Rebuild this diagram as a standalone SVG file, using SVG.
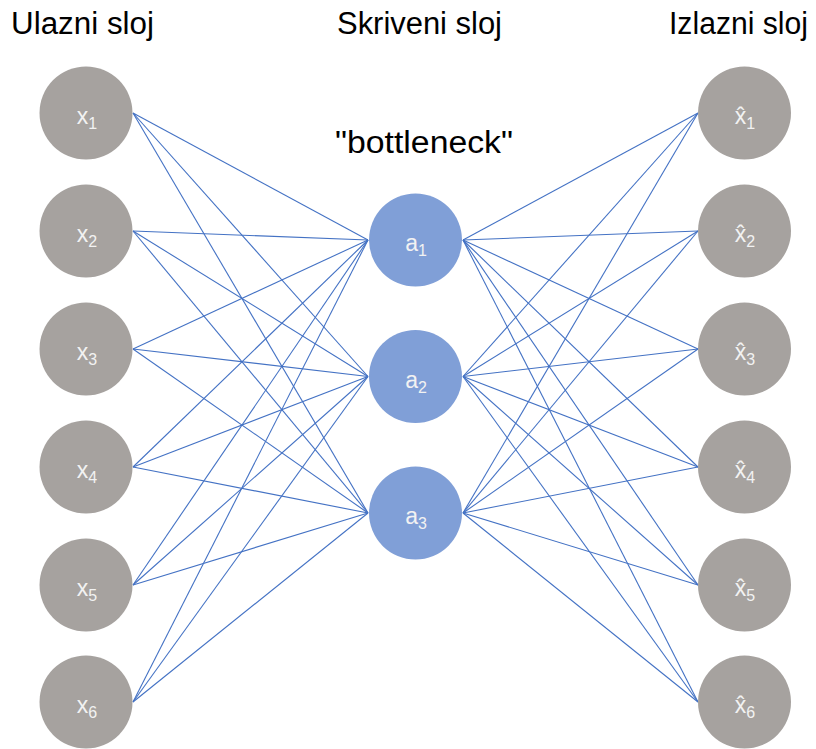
<svg xmlns="http://www.w3.org/2000/svg" width="816" height="749" viewBox="0 0 816 749">
<style>
.title{font-family:"Liberation Sans",Arial,sans-serif;font-size:31px;fill:#000}
.io{fill:#A6A29F}
.hid{fill:#809FD7}
.lbl{font-family:"Liberation Sans","DejaVu Sans",sans-serif;font-size:23px;fill:#F2F2F2;text-anchor:middle}
.sub{font-size:16px}
.conn line{stroke:#4472C4;stroke-width:1.1}
</style>
<rect width="816" height="749" fill="#FFFFFF"/>
<text class="title" x="11" y="34" textLength="143" lengthAdjust="spacingAndGlyphs">Ulazni sloj</text>
<text class="title" x="337" y="34" textLength="165" lengthAdjust="spacingAndGlyphs">Skriveni sloj</text>
<text class="title" x="669" y="34" textLength="139" lengthAdjust="spacingAndGlyphs">Izlazni sloj</text>
<text class="title" x="335" y="153" textLength="178" lengthAdjust="spacingAndGlyphs">"bottleneck"</text>
<g class="conn">
<line x1="133" y1="113" x2="368" y2="240"/><line x1="133" y1="113" x2="368" y2="376.5"/><line x1="133" y1="113" x2="368" y2="513"/>
<line x1="133" y1="231" x2="368" y2="240"/><line x1="133" y1="231" x2="368" y2="376.5"/><line x1="133" y1="231" x2="368" y2="513"/>
<line x1="133" y1="349" x2="368" y2="240"/><line x1="133" y1="349" x2="368" y2="376.5"/><line x1="133" y1="349" x2="368" y2="513"/>
<line x1="133" y1="467" x2="368" y2="240"/><line x1="133" y1="467" x2="368" y2="376.5"/><line x1="133" y1="467" x2="368" y2="513"/>
<line x1="133" y1="585" x2="368" y2="240"/><line x1="133" y1="585" x2="368" y2="376.5"/><line x1="133" y1="585" x2="368" y2="513"/>
<line x1="133" y1="702" x2="368" y2="240"/><line x1="133" y1="702" x2="368" y2="376.5"/><line x1="133" y1="702" x2="368" y2="513"/>
<line x1="463" y1="240" x2="698" y2="113"/><line x1="463" y1="240" x2="698" y2="231"/><line x1="463" y1="240" x2="698" y2="349"/>
<line x1="463" y1="240" x2="698" y2="467"/><line x1="463" y1="240" x2="698" y2="585"/><line x1="463" y1="240" x2="698" y2="702"/>
<line x1="463" y1="376.5" x2="698" y2="113"/><line x1="463" y1="376.5" x2="698" y2="231"/><line x1="463" y1="376.5" x2="698" y2="349"/>
<line x1="463" y1="376.5" x2="698" y2="467"/><line x1="463" y1="376.5" x2="698" y2="585"/><line x1="463" y1="376.5" x2="698" y2="702"/>
<line x1="463" y1="513" x2="698" y2="113"/><line x1="463" y1="513" x2="698" y2="231"/><line x1="463" y1="513" x2="698" y2="349"/>
<line x1="463" y1="513" x2="698" y2="467"/><line x1="463" y1="513" x2="698" y2="585"/><line x1="463" y1="513" x2="698" y2="702"/>
</g>
<g id="x1"><circle class="io" cx="86" cy="113" r="46.5"/><text class="lbl" x="87" y="124">x<tspan class="sub" dy="5">1</tspan></text></g>
<g id="x2"><circle class="io" cx="86" cy="231" r="46.5"/><text class="lbl" x="87" y="242">x<tspan class="sub" dy="5">2</tspan></text></g>
<g id="x3"><circle class="io" cx="86" cy="349" r="46.5"/><text class="lbl" x="87" y="360">x<tspan class="sub" dy="5">3</tspan></text></g>
<g id="x4"><circle class="io" cx="86" cy="467" r="46.5"/><text class="lbl" x="87" y="478">x<tspan class="sub" dy="5">4</tspan></text></g>
<g id="x5"><circle class="io" cx="86" cy="585" r="46.5"/><text class="lbl" x="87" y="596">x<tspan class="sub" dy="5">5</tspan></text></g>
<g id="x6"><circle class="io" cx="86" cy="702" r="46.5"/><text class="lbl" x="87" y="713">x<tspan class="sub" dy="5">6</tspan></text></g>
<g id="a1"><circle class="hid" cx="415.5" cy="240" r="46.5"/><text class="lbl" x="416" y="251">a<tspan class="sub" dy="5">1</tspan></text></g>
<g id="a2"><circle class="hid" cx="415.5" cy="376.5" r="46.5"/><text class="lbl" x="416" y="387.5">a<tspan class="sub" dy="5">2</tspan></text></g>
<g id="a3"><circle class="hid" cx="415.5" cy="513" r="46.5"/><text class="lbl" x="416" y="524">a<tspan class="sub" dy="5">3</tspan></text></g>
<g id="y1"><circle class="io" cx="744.5" cy="113" r="46.5"/><text class="lbl" x="745" y="124">x̂<tspan class="sub" dy="5">1</tspan></text></g>
<g id="y2"><circle class="io" cx="744.5" cy="231" r="46.5"/><text class="lbl" x="745" y="242">x̂<tspan class="sub" dy="5">2</tspan></text></g>
<g id="y3"><circle class="io" cx="744.5" cy="349" r="46.5"/><text class="lbl" x="745" y="360">x̂<tspan class="sub" dy="5">3</tspan></text></g>
<g id="y4"><circle class="io" cx="744.5" cy="467" r="46.5"/><text class="lbl" x="745" y="478">x̂<tspan class="sub" dy="5">4</tspan></text></g>
<g id="y5"><circle class="io" cx="744.5" cy="585" r="46.5"/><text class="lbl" x="745" y="596">x̂<tspan class="sub" dy="5">5</tspan></text></g>
<g id="y6"><circle class="io" cx="744.5" cy="702" r="46.5"/><text class="lbl" x="745" y="713">x̂<tspan class="sub" dy="5">6</tspan></text></g>
</svg>
